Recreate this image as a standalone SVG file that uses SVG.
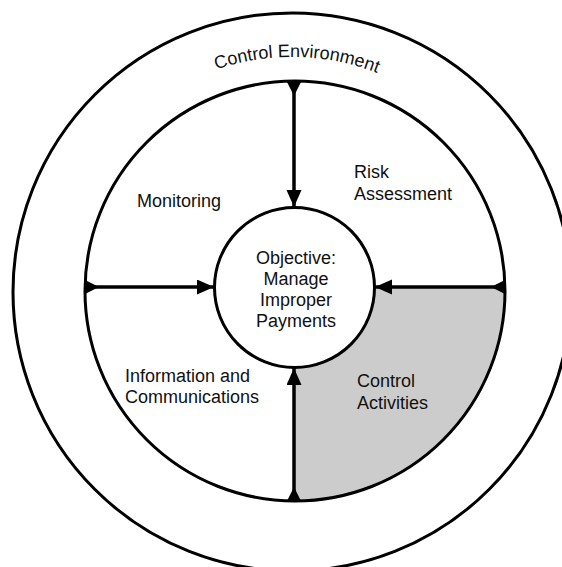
<svg xmlns="http://www.w3.org/2000/svg" xmlns:xlink="http://www.w3.org/1999/xlink" width="562" height="567" viewBox="0 0 562 567">
<style>
.ring{fill:none;stroke:#000;stroke-width:3}
.conn{fill:none;stroke:#000;stroke-width:3.5}
.lbl{font-family:"Liberation Sans",Arial,Helvetica,sans-serif;font-size:18px;fill:#111}
.ctr{text-anchor:middle}
</style>
<defs>
<marker id="head" markerUnits="userSpaceOnUse" markerWidth="18" markerHeight="16" refX="17" refY="7.5" orient="auto"><path d="M0,0 L17,7.5 L0,15 z" fill="#000"/></marker>
<marker id="tail" markerUnits="userSpaceOnUse" markerWidth="18" markerHeight="16" refX="0" refY="7" orient="auto"><path d="M0,0 L14,7 L0,14 z" fill="#000"/></marker>
<path id="envArc" d="M57,292 A235,235 0 0 1 527,292"/>
</defs>
<rect width="562" height="567" fill="#fff"/>
<g id="control-activities-fill">
<path d="M294,367.5 A80,80 0 0 0 374.5,287 L505,287 A210,210 0 0 1 294,501 Z" fill="#cccccc"/>
</g>
<g id="control-environment">
<circle class="ring" cx="292" cy="292" r="279"/>
<text class="lbl"><textPath xlink:href="#envArc" href="#envArc" startOffset="374" text-anchor="middle">Control Environment</textPath></text>
</g>
<g id="inner-ring">
<circle class="ring" cx="295" cy="291" r="210"/>
</g>
<g id="monitoring"><text class="lbl" x="137" y="207">Monitoring</text></g>
<g id="risk-assessment"><text class="lbl" x="354" y="178">Risk<tspan x="354" y="200">Assessment</tspan></text></g>
<g id="information-communications"><text class="lbl" x="125" y="382">Information and<tspan x="125" y="403">Communications</tspan></text></g>
<g id="control-activities"><text class="lbl" x="357" y="387">Control<tspan x="357" y="409">Activities</tspan></text></g>
<g id="objective">
<circle class="ring" cx="294.5" cy="287.5" r="80" fill="#fff"/>
<text class="lbl ctr" x="296" y="264">Objective:<tspan x="296" y="285">Manage</tspan><tspan x="296" y="306">Improper</tspan><tspan x="296" y="327">Payments</tspan></text>
</g>
<g id="connectors">
<line class="conn" x1="294" y1="82" x2="294" y2="207" marker-start="url(#tail)" marker-end="url(#head)"/>
<line class="conn" x1="85" y1="287" x2="214" y2="287" marker-start="url(#tail)" marker-end="url(#head)"/>
<line class="conn" x1="505" y1="287" x2="375" y2="287" marker-start="url(#tail)" marker-end="url(#head)"/>
<line class="conn" x1="294" y1="501" x2="294" y2="368" marker-start="url(#tail)" marker-end="url(#head)"/>
</g>
</svg>
